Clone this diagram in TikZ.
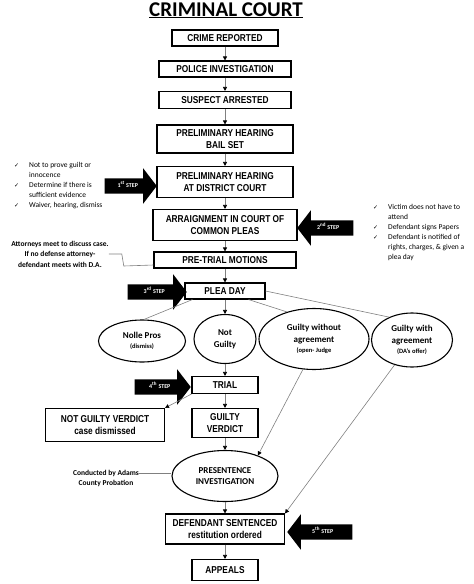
\documentclass[tikz,border=0pt]{standalone}
\usepackage{fontspec}
\setmainfont{Carlito}
\newfontfamily\boxfont[FakeStretch=0.83]{Liberation Sans}
\newfontfamily\symfont{DejaVu Sans}
\usetikzlibrary{shapes.geometric,shapes.arrows,arrows.meta}
\newcommand\chkmark{{\symfont\fontsize{6}{10}\selectfont ✓}}

\tikzset{box/.style = {shape = rectangle,
                       draw,
                       line width = 1.1pt,
                       inner sep = 0pt,
                       align = center,
                       font = \boxfont\bfseries\fontsize{10}{11.5}\selectfont},
         oval/.style = {shape = ellipse,
                        draw,
                        line width = 1.1pt,
                        inner sep = 0pt,
                        align = center,
                        font = \bfseries\fontsize{9}{12}\selectfont},
         stepmark/.style = {single arrow,
                            fill = black,
                            text = white,
                            text height = 4pt,
                            text depth = 1pt,
                            inner xsep = 2pt,
                            inner ysep = 5pt,
                            single arrow head extend = 10pt,
                            single arrow tip angle = 105,
                            single arrow head indent = 0pt,
                            anchor = tip,
                            font = \bfseries\fontsize{6}{6}\selectfont},
         flow/.style = {draw = gray,
                        line width = 0.6pt,
                        -{Triangle[length = 4pt, width = 4pt, color = black]}},
         link/.style = {draw = gray,
                        line width = 0.6pt},
         note/.style = {align = center,
                        inner sep = 0pt,
                        font = \bfseries\fontsize{7.5}{10.5}\selectfont},
         checks/.style = {anchor = north west,
                          inner sep = 0pt,
                          font = \fontsize{7.5}{10}\selectfont}}

\begin{document}
\begin{tikzpicture}[x = 1pt, y = -1pt]
		\useasboundingbox (0,0) rectangle (474,584);
		\node[anchor = base, inner sep = 0pt, font = \bfseries\fontsize{21}{21}\selectfont] (title) at (226,16) {\underline{CRIMINAL COURT}};

		\node[box, minimum width = 106pt, minimum height = 16pt] (crime) at (225,38) {CRIME REPORTED};
		\node[box, minimum width = 132pt, minimum height = 16pt] (police) at (225,69) {POLICE INVESTIGATION};
		\node[box, minimum width = 132pt, minimum height = 17pt] (suspect) at (225,100) {SUSPECT ARRESTED};
		\node[box, minimum width = 136pt, minimum height = 28pt] (bail) at (225,139) {PRELIMINARY HEARING\\BAIL SET};
		\node[box, minimum width = 136pt, minimum height = 31pt] (district) at (225,182) {PRELIMINARY HEARING\\AT DISTRICT COURT};
		\node[box, minimum width = 144pt, minimum height = 31pt] (arraign) at (225,225) {ARRAIGNMENT IN COURT OF\\COMMON PLEAS};
		\node[box, minimum width = 142pt, minimum height = 16pt] (motions) at (225,260) {PRE-TRIAL MOTIONS};
		\node[box, minimum width = 80pt, minimum height = 16pt] (plea) at (225,291) {PLEA DAY};

		\node[oval, minimum width = 87pt, minimum height = 42pt] (nolle) at (142,341) {Nolle Pros\\[-2pt]{\fontsize{6.5}{8}\selectfont(dismiss)}};
		\node[oval, minimum width = 62pt, minimum height = 49pt] (notguilty) at (225,339) {Not\\Guilty};
		\node[oval, minimum width = 110pt, minimum height = 61pt] (gwo) at (314,339) {Guilty without\\agreement\\[-2pt]{\fontsize{6.5}{8}\selectfont(open- Judge}};
		\node[oval, minimum width = 81pt, minimum height = 54pt] (gw) at (412,340) {Guilty with\\agreement\\[-2pt]{\fontsize{6.5}{8}\selectfont(DA's offer)}};

		\node[box, minimum width = 66pt, minimum height = 17pt] (trial) at (225,385) {TRIAL};
		\node[box, minimum width = 119pt, minimum height = 33pt] (ngv) at (105,425) {NOT GUILTY VERDICT\\case dismissed};
		\node[box, minimum width = 66pt, minimum height = 29pt] (verdict) at (225,423) {GUILTY\\VERDICT};
		\node[oval, minimum width = 106pt, minimum height = 51pt] (pre) at (225,476) {PRESENTENCE\\[-1pt]INVESTIGATION};
		\node[box, minimum width = 119pt, minimum height = 30pt] (sentenced) at (225,529) {DEFENDANT SENTENCED\\restitution ordered};
		\node[box, minimum width = 66pt, minimum height = 21pt] (appeals) at (225,570) {APPEALS};

		\node[stepmark, minimum height = 52pt] (step1) at (157,186) {1\textsuperscript{st} STEP};
		\node[stepmark, shape border rotate = 180, minimum height = 56pt] (step2) at (297,228) {2\textsuperscript{nd} STEP};
		\node[stepmark, minimum height = 59pt] (step3) at (187,292) {3\textsuperscript{rd} STEP};
		\node[stepmark, minimum height = 56pt] (step4) at (191,387) {4\textsuperscript{th} STEP};
		\node[stepmark, shape border rotate = 180, minimum height = 65pt] (step5) at (287,532) {5\textsuperscript{th} STEP};

		\node[checks] (courtnotes) at (14,160) {\begin{tabular}{@{}p{15pt}@{}l@{}}
			\chkmark & Not to prove guilt or\\
			 & innocence\\
			\chkmark & Determine if there is\\
			 & sufficient evidence\\
			\chkmark & Waiver, hearing, dismiss
		\end{tabular}};
		\node[checks] (pleanotes) at (373,202) {\begin{tabular}{@{}p{15pt}@{}l@{}}
			\chkmark & Victim does not have to\\
			 & attend\\
			\chkmark & Defendant signs Papers\\
			\chkmark & Defendant is notified of\\
			 & rights, charges, \& given a\\
			 & plea day
		\end{tabular}};
		\node[note] (lawyers) at (60,254) {Attorneys meet to discuss case.\\If no defense attorney-\\defendant meets with D.A.};
		\node[note, font = \bfseries\fontsize{7.5}{10}\selectfont] (probation) at (106,478) {Conducted by Adams\\County Probation};

		\path (crime) edge[flow] (police);
		\path (police) edge[flow] (suspect);
		\path (suspect) edge[flow] (bail);
		\path (bail) edge[flow] (district);
		\path (district) edge[flow] (arraign);
		\path (arraign) edge[flow] (motions);
		\path (motions) edge[flow] (plea);
		\path (plea) edge[flow] (notguilty);
		\path (notguilty) edge[flow] (trial);
		\path (trial) edge[flow] (verdict);
		\path (verdict) edge[flow] (pre);
		\path (pre) edge[flow] (sentenced);
		\path (sentenced) edge[flow] (appeals);
		\path ([xshift = 8pt]plea.south west) edge[link] (nolle.85);
		\path ([xshift = -17pt]plea.south east) edge[link] (gwo.135);
		\path (plea.east) edge[link] (gw.135);
		\path (trial.south west) edge[flow] (ngv.north east);
		\path (gwo.-110) edge[flow] (pre.32);
		\path (gw.-125) edge[flow] (sentenced.north east);
		\draw[link] (lawyers.east) -- ++(13,0) -- ++(2,12) -- ([yshift = -5pt]motions.west);
		\path ([yshift = 5pt]probation.east) edge[link] ([yshift = 3pt]pre.west);
	\end{tikzpicture}
\end{document}
